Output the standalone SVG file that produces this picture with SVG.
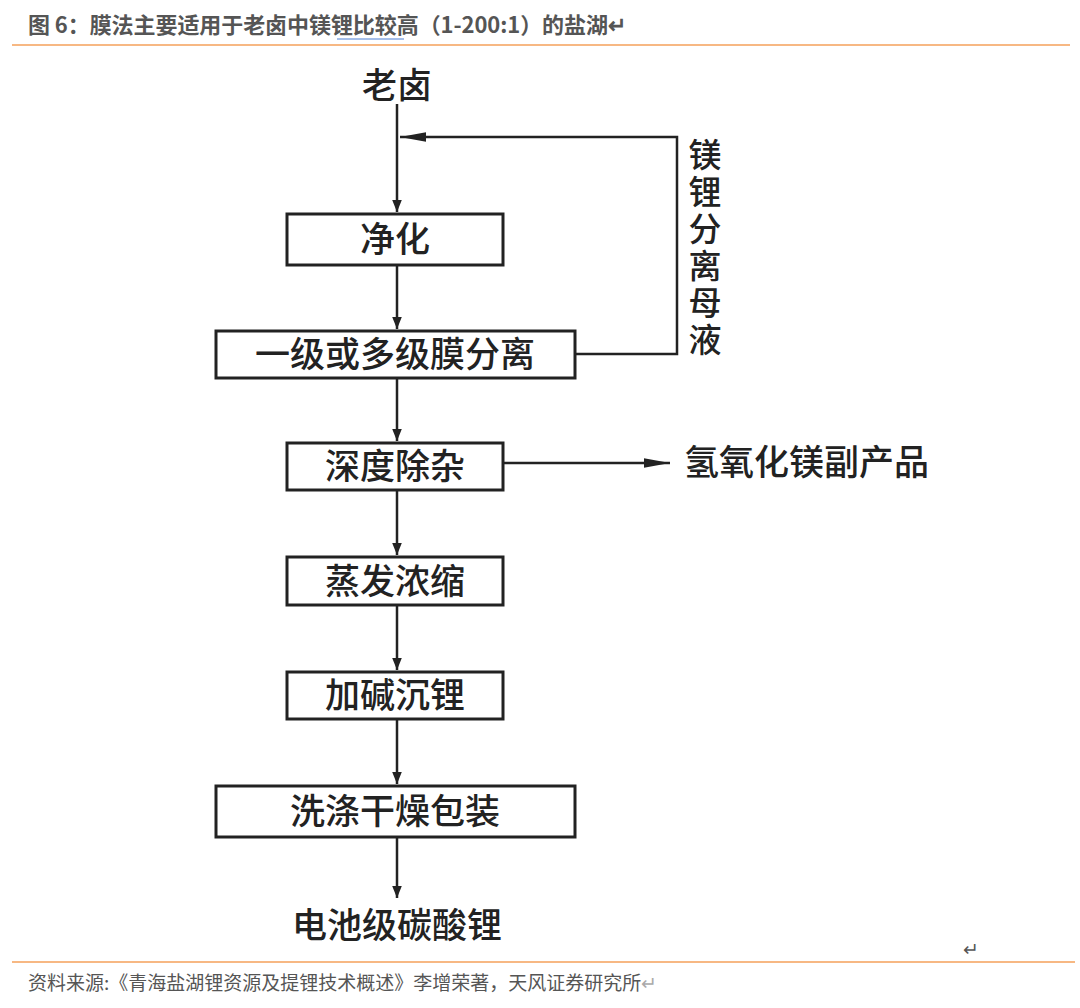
<svg xmlns="http://www.w3.org/2000/svg" width="1080" height="1008" viewBox="0 0 1080 1008">
<defs>
<marker id="ah" viewBox="0 0 10 10" refX="10" refY="5" markerWidth="12" markerHeight="12" markerUnits="userSpaceOnUse" orient="auto"><path d="M0,1 L10,5 L0,9 z" fill="#222"/></marker>
<marker id="ahw" viewBox="0 0 10 10" refX="10" refY="5" markerWidth="26" markerHeight="12" markerUnits="userSpaceOnUse" orient="auto" preserveAspectRatio="none"><path d="M0,1 L10,5 L0,9 z" fill="#222"/></marker>
<style>
.box{fill:#fff;stroke:#222;stroke-width:3}
.t{font-family:"Noto Sans CJK SC","Liberation Sans",sans-serif;font-size:35px;fill:#222;text-anchor:middle;font-weight:500}
.c{stroke:#222;stroke-width:2.5;fill:none}
.h{font-family:"Noto Sans CJK SC","Liberation Sans",sans-serif;font-size:22px;fill:#555;font-weight:bold}
.f{font-family:"Noto Sans CJK SC","Liberation Sans",sans-serif;font-size:19px;fill:#555}
</style>
</defs>
<rect width="1080" height="1008" fill="#fff"/>
<text class="h" x="28" y="33" textLength="580" lengthAdjust="spacing">图 6：膜法主要适用于老卤中镁锂比较高（1-200:1）的盐湖</text>
<text class="h" x="608" y="33" fill="#aaa" font-weight="normal">↵</text>
<line x1="337" y1="39" x2="404" y2="39" stroke="#4a7fd4" stroke-width="1"/>
<line x1="12" y1="45" x2="1070" y2="45" stroke="#f5a05a" stroke-width="1.5"/>
<g id="connectors">
<line class="c" x1="397" y1="104" x2="397" y2="212" marker-end="url(#ah)"/>
<line class="c" x1="397" y1="265" x2="397" y2="329" marker-end="url(#ah)"/>
<line class="c" x1="397" y1="378" x2="397" y2="441" marker-end="url(#ah)"/>
<line class="c" x1="397" y1="490" x2="397" y2="555" marker-end="url(#ah)"/>
<line class="c" x1="397" y1="605" x2="397" y2="670" marker-end="url(#ah)"/>
<line class="c" x1="397" y1="719" x2="397" y2="784" marker-end="url(#ah)"/>
<line class="c" x1="397" y1="837" x2="397" y2="898" marker-end="url(#ah)"/>
<polyline class="c" points="575,354 677,354 677,137 400,137" marker-end="url(#ahw)"/>
<line class="c" x1="503" y1="463" x2="670" y2="463" marker-end="url(#ahw)"/>
</g>
<g id="n0"><text class="t" x="397" y="98">老卤</text></g>
<g id="n1"><rect class="box" x="287" y="214" width="216" height="51"/><text class="t" x="395" y="252">净化</text></g>
<g id="n2"><rect class="box" x="216" y="331" width="359" height="47"/><text class="t" x="395" y="367">一级或多级膜分离</text></g>
<g id="n3"><rect class="box" x="287" y="443" width="216" height="47"/><text class="t" x="395" y="479">深度除杂</text></g>
<g id="n4"><rect class="box" x="287" y="557" width="216" height="48"/><text class="t" x="395" y="594">蒸发浓缩</text></g>
<g id="n5"><rect class="box" x="287" y="672" width="216" height="47"/><text class="t" x="395" y="708">加碱沉锂</text></g>
<g id="n6"><rect class="box" x="216" y="786" width="359" height="51"/><text class="t" x="395" y="824">洗涤干燥包装</text></g>
<g id="n7"><text class="t" x="397" y="938">电池级碳酸锂</text></g>
<g id="n8"><text class="t" x="705" y="138" writing-mode="vertical-rl" style="text-anchor:start;font-size:33px" letter-spacing="4">镁锂分离母液</text></g>
<g id="n9"><text class="t" x="684" y="475" style="text-anchor:start">氢氧化镁副产品</text></g>
<text class="f" x="963" y="956" fill="#aaa">↵</text>
<line x1="12" y1="962" x2="1075" y2="962" stroke="#f5a05a" stroke-width="1.5"/>
<text class="f" x="28" y="990">资料来源:《青海盐湖锂资源及提锂技术概述》李增荣著，天风证券研究所<tspan fill="#aaa">↵</tspan></text>
</svg>
